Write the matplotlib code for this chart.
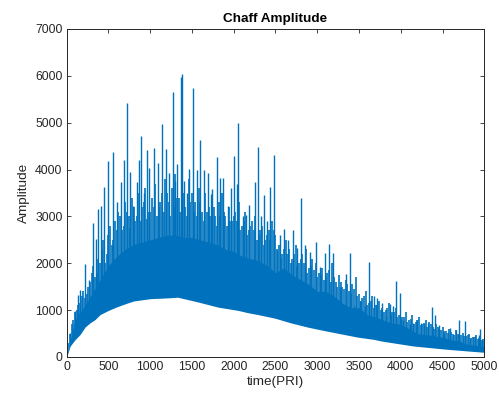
import matplotlib
matplotlib.use("Agg")
import matplotlib.pyplot as plt

plt.rcParams['font.family'] = ['Liberation Sans', 'DejaVu Sans']

# lower edge of the trace
t_floor = [0, 40, 100, 160, 220, 280, 340, 400, 500, 600, 700, 800, 900, 1000,
           1140, 1240, 1330, 1450, 1570, 1690, 1810, 1930, 2050, 2170, 2290,
           2410, 2500, 2680, 2880, 3080, 3280, 3480, 3680, 3770, 4150, 4550, 5000]
floor_amp = [0, 230, 370, 480, 640, 730, 800, 905, 995, 1070, 1135, 1195, 1220, 1245,
             1255, 1265, 1275, 1225, 1175, 1120, 1065, 1030, 995, 945, 905,
             860, 825, 730, 640, 565, 495, 425, 375, 340, 235, 165, 100]

# top of the dense part of the trace
t_core = list(range(0, 5001, 100))
core_amp = [0, 800, 1050, 1350, 1650, 1950, 2150, 2300, 2400, 2450, 2500,
            2550, 2600, 2600, 2550, 2550, 2500, 2450, 2400, 2300, 2250,
            2150, 2100, 2050, 1950, 1800, 1900, 1750, 1650, 1550, 1400,
            1400, 1300, 1150, 1050, 1050, 900, 850, 780, 720, 700,
            600, 500, 480, 450, 420, 370, 340, 270, 250, 220]

# medium spikes on top of the dense part
t_grass = list(range(20, 5000, 40))
grass_amp = [300, 700, 950, 1100, 1300, 1250, 1500, 1800, 1700, 2100, 2300, 2000,
             2600, 2400, 2900, 3100, 2700, 3300, 3000, 3400, 2900, 3500, 3200, 3600, 3100,
             3400, 3700, 3200, 3500, 3800, 3300, 3600, 3900, 3400, 3700, 3200, 3800, 3500,
             3300, 3600, 3100, 3500, 3200, 3400, 3000, 3300, 3500, 3000, 3200, 2900,
             3100, 3300, 2800, 3100, 2700, 2900, 3000, 2600, 2800, 2500, 2700, 2900, 2600,
             2400, 2200, 2500, 2300, 2100, 2400, 2000, 2200, 2300, 1900, 2100, 2000,
             1800, 1900, 1700, 1850, 2000, 1600, 1750, 1500, 1650, 1400, 1550, 1700, 1350,
             1250, 1400, 1150, 1300, 1100, 1200, 1050, 1000, 1150, 950, 1050, 900,
             850, 950, 800, 900, 750, 850, 700, 800, 750, 650, 700, 600, 650,
             550, 600, 500, 580, 480, 520, 450, 500, 420, 460, 400, 380]

t_grass2 = list(range(0, 5000, 40))
grass2_amp = [100, 500, 800, 1000, 1150, 1400, 1350, 1600, 1950, 1800, 2000, 2500, 2200,
              2800, 2500, 2700, 3000, 2800, 3100, 2750, 3200, 3000, 2900, 3300, 2950, 3100,
              3200, 3000, 3300, 3100, 3500, 3000, 3200, 3400, 3100, 3500, 3000, 3300,
              3100, 3000, 3300, 2900, 3100, 3000, 3200, 2800, 3000, 3100, 2800, 2900, 3000,
              2900, 2700, 2900, 2600, 2800, 2700, 2500, 2700, 2400, 2600, 2500, 2700,
              2300, 2100, 2300, 2200, 2000, 2200, 1950, 2100, 2000, 1800, 1950, 1850, 1700,
              1750, 1650, 1800, 1600, 1700, 1500, 1600, 1450, 1550, 1350, 1450, 1300,
              1200, 1300, 1100, 1200, 1050, 1100, 1000, 950, 1050, 900, 950, 850, 800,
              850, 750, 820, 700, 780, 680, 720, 650, 700, 600, 640, 580,
              560, 520, 540, 480, 500, 460, 440, 470, 400, 420, 380, 360]

# tall spikes
spike_t = [45, 103, 135, 163, 223, 270, 313, 350, 380, 407, 450, 490, 550, 600,
           646, 682, 718, 754, 790, 838, 866, 886, 920, 958, 982, 1045, 1089,
           1137, 1189, 1229, 1269, 1297, 1325, 1365, 1385, 1405, 1435, 1465,
           1509, 1557, 1600, 1640, 1689, 1725, 1745, 1797, 1837, 1869, 1937,
           1965, 2005, 2037, 2055, 2106, 2142, 2183, 2254, 2287, 2322, 2362,
           2400, 2437, 2478, 2513, 2550, 2598, 2650, 2706, 2753, 2801, 2853,
           2913, 2985, 3033, 3093, 3145, 3193, 3273, 3344, 3392, 3440, 3513,
           3573, 3623, 3680, 3720, 3770, 3824, 3870, 3910, 3938, 3990, 4030,
           4110, 4150, 4190, 4242, 4282, 4330, 4370, 4410, 4462, 4518, 4590,
           4657, 4700, 4768, 4828, 4888, 4936, 4947, 4968]
spike_amp = [510, 980, 1320, 1440, 1980, 1640, 2860, 2510, 3150, 3230, 3620, 4180, 4370, 3300,
             3730, 4200, 5410, 3940, 3230, 3730, 4200, 4720, 3500, 4420, 4030, 4450, 4150,
             4970, 4440, 3920, 5660, 3750, 4110, 5980, 6050, 3750, 3500, 4020,
             5730, 4000, 4630, 4000, 3920, 3480, 3590, 4260, 3810, 3810, 3230,
             3600, 4290, 3700, 4990, 3010, 3030, 3240, 3730, 4475, 3010, 3450,
             2900, 3630, 4310, 2280, 2600, 2730, 2500, 2700, 2320, 3390, 2400,
             2240, 2460, 1920, 2210, 2410, 2230, 1500, 1770, 2230, 1090, 1190,
             1080, 2030, 1300, 1250, 1160, 870, 1140, 1085, 1620, 1370, 790,
             700, 730, 780, 730, 710, 716, 1064, 887, 674, 518, 610,
             567, 800, 766, 411, 447, 468, 590, 355]

blue = '#0072BD'
dark = '#262626'

fig = plt.figure(figsize=(4.99, 3.96), dpi=100)
ax = fig.add_axes([0.1337, 0.0985, 0.8368, 0.8283])

ax.vlines(t_grass2, 0, grass2_amp, color=blue, linewidth=1.2, zorder=1)
ax.vlines(t_grass, 0, grass_amp, color=blue, linewidth=1.2, zorder=1)
ax.vlines(spike_t, 0, spike_amp, color=blue, linewidth=1.0, zorder=1)
ax.fill_between(t_core, 0, core_amp, color=blue, linewidth=0, zorder=1.5)
ax.fill_between(t_floor, 0, floor_amp, color='white', linewidth=0, zorder=2)

ax.set_xlim(0, 5000)
ax.set_ylim(0, 7000)
ax.set_xticks(range(0, 5001, 500))
ax.set_yticks(range(0, 7001, 1000))
ax.tick_params(direction='in', length=3, width=0.6, top=True, right=True,
               labelsize=8.8, colors=dark, pad=3)
for s in ax.spines.values():
    s.set_color(dark)
    s.set_linewidth(0.7)
    s.set_zorder(5)

ax.set_xlabel('time(PRI)', fontsize=9.7, color=dark, labelpad=2)
ax.set_ylabel('Amplitude', fontsize=9.7, color=dark, labelpad=4)
ax.set_title('Chaff Amplitude', fontsize=9.7, fontweight='bold', color='black', pad=5)

fig.savefig('out.png', dpi=100)
